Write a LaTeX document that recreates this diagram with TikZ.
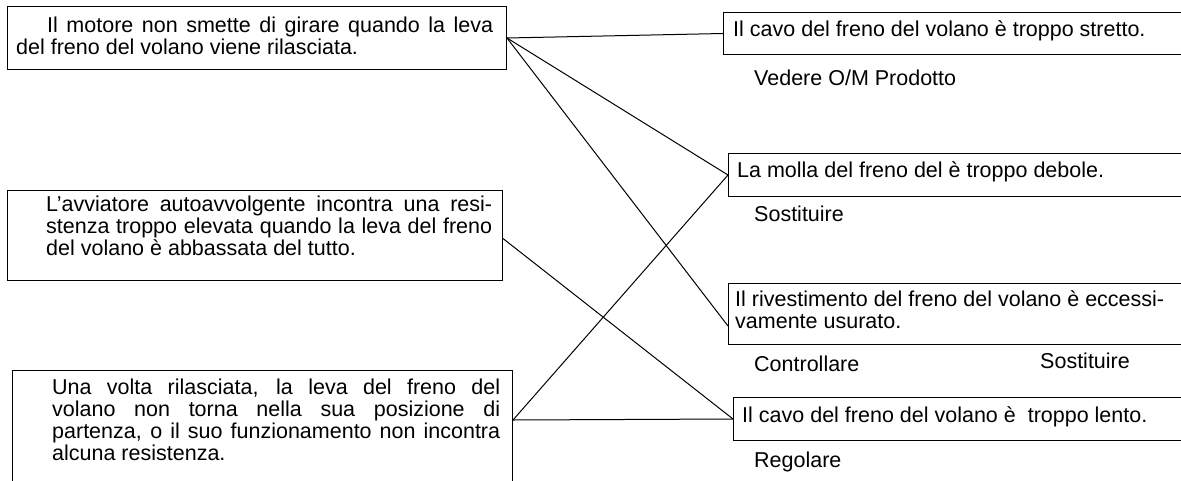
\documentclass[tikz,border=0pt]{standalone}
\usepackage{fontspec}
\setmainfont{Liberation Sans}
\tikzset{
  box/.style={draw, line width=1pt, inner sep=0pt, anchor=north west},
  txt/.style={inner sep=0pt, anchor=base west},
  link/.style={line width=1pt},
}
\begin{document}
\begin{tikzpicture}[x=1pt,y=-1pt, font=\fontsize{21.5}{22}\selectfont]
\useasboundingbox (0,0) rectangle (1181,480);
\clip (0,0) rectangle (1181,480);
% left boxes
\node[box, minimum width=499pt, minimum height=63pt] (L1) at (7,6) {};
\node[box, minimum width=495pt, minimum height=90pt] (L2) at (7,190) {};
\node[box, minimum width=500pt, minimum height=130pt] (L3) at (12,370) {};
% right boxes
\node[box, minimum width=480pt, minimum height=42pt] (R1) at (723,12) {};
\node[box, minimum width=480pt, minimum height=43pt] (R2) at (728,153) {};
\node[box, minimum width=480pt, minimum height=61pt] (R3) at (728,283) {};
\node[box, minimum width=480pt, minimum height=43pt] (R4) at (733,397) {};
% texts of left boxes
\node[txt] (T1) at (16,32) {\vtop{\hbox to 477pt{\hskip 31pt Il motore non smette di girare quando la leva}\hbox{del freno del volano viene rilasciata.}}};
\node[txt] (T2) at (46,211) {\vtop{\hbox to 446pt{L'avviatore autoavvolgente incontra una resi-}\hbox to 446pt{stenza troppo elevata quando la leva del freno}\hbox{del volano è abbassata del tutto.}}};
\node[txt] (T3) at (52,394) {\vtop{\hbox to 448pt{Una volta rilasciata, la leva del freno del}\hbox to 448pt{volano non torna nella sua posizione di}\hbox to 448pt{partenza, o il suo funzionamento non incontra}\hbox{alcuna resistenza.}}};
% texts of right boxes
\node[txt] (U1) at (733,36) {Il cavo del freno del volano è troppo stretto.};
\node[txt] (U2) at (737,177) {La molla del freno del è troppo debole.};
\node[txt] (U3) at (735,306) {\vtop{\hbox{Il rivestimento del freno del volano è eccessi-}\hbox{vamente usurato.}}};
\node[txt] (U4) at (742,422) {Il cavo del freno del volano è\ \ troppo lento.};
% actions
\node[txt] (A1) at (754,85) {Vedere O/M Prodotto};
\node[txt] (A2) at (754,221) {Sostituire};
\node[txt] (A3) at (754,371) {Controllare};
\node[txt] (A4) at (1040,368) {Sostituire};
\node[txt] (A5) at (754,467) {Regolare};
% connectors
\draw[link] (L1.east) -- (R1.west);
\draw[link] (L1.east) -- (R2.west);
\draw[link] (L1.east) -- ([yshift=-12pt]R3.west);
\draw[link] ([yshift=-3pt]L2.east) -- (R4.west);
\draw[link] ([yshift=-50pt]L3.north east) -- (R2.west);
\draw[link] ([yshift=-50pt]L3.north east) -- (R4.west);
\end{tikzpicture}
\end{document}
